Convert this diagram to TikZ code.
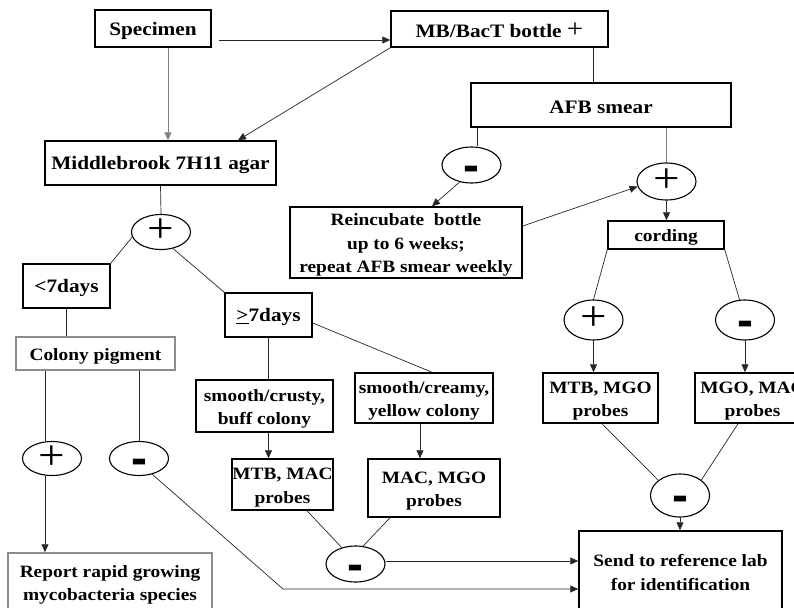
\documentclass[tikz,border=0pt]{standalone}
\usepackage{fontspec}
\setmainfont{Liberation Serif}[FakeStretch=1.12]
\newfontfamily\signfont{Liberation Sans}
\usetikzlibrary{shapes.geometric,arrows.meta}

\begin{document}
\begin{tikzpicture}[x=1pt,y=-1pt]
\tikzstyle{box}=[draw,line width=1.5pt,inner sep=0pt,align=center,font=\bfseries\fontsize{17.3}{23.5}\selectfont,text height=17.3pt]
\tikzstyle{twoline}=[text height=40.8pt]
\tikzstyle{threeline}=[text height=64.3pt]
\tikzstyle{bigbox}=[box,font=\bfseries\fontsize{19}{24}\selectfont]
\tikzstyle{palebox}=[box,draw=black!45]
\tikzstyle{sign}=[ellipse,draw,line width=1.1pt,minimum width=59pt,inner sep=0pt]
\tikzstyle{plussign}=[sign,font=\fontsize{42}{42}\selectfont,text height=21.5pt,text depth=0pt,inner ysep=-5pt]
\tikzstyle{minussign}=[sign,font=\signfont\bfseries\fontsize{48}{48}\selectfont,text height=32.6pt,text depth=0pt,inner ysep=-12pt]
\tikzstyle{link}=[line width=0.7pt,draw=black!85]
\tikzstyle{flow}=[link,-{Triangle[length=8pt,width=7pt]}]
\useasboundingbox (0,0) rectangle (794,607);
\node[bigbox,minimum width=116pt,minimum height=37pt] (specimen) at (153,28.5) {Specimen};
\node[bigbox,minimum width=217pt,minimum height=36pt] (bottle) at (499.5,29) {MB/BacT bottle {\mdseries\fontsize{26}{26}\selectfont +}};
\node[bigbox,minimum width=260pt,minimum height=44pt] (smear) at (601,105) {AFB smear};
\node[bigbox,minimum width=231pt,minimum height=44pt] (agar) at (160.5,163) {Middlebrook 7H11 agar};
\node[box,threeline,minimum width=232pt,minimum height=71pt] (reinc) at (406,242.5) {Reincubate\ \ bottle\\up to 6 weeks;\\repeat AFB smear weekly};
\node[box,minimum width=116pt,minimum height=28pt] (cording) at (666,235) {cording};
\node[bigbox,minimum width=87pt,minimum height=44pt] (lt7) at (66.5,286) {<7days};
\node[bigbox,minimum width=87pt,minimum height=44pt] (ge7) at (268.5,315) {\underline{>}7days};
\node[palebox,minimum width=159pt,minimum height=33pt] (pigment) at (95.5,353.5) {Colony pigment};
\node[box,twoline,minimum width=137pt,minimum height=52pt] (crusty) at (264.5,406) {smooth/crusty,\\buff colony};
\node[box,twoline,minimum width=138pt,minimum height=50pt] (creamy) at (424,398) {smooth/creamy,\\yellow colony};
\node[box,twoline,minimum width=115pt,minimum height=50pt] (mtbmgo) at (600.5,398) {MTB, MGO\\probes};
\node[box,twoline,minimum width=115pt,minimum height=50pt] (mgomac) at (752.5,398) {MGO, MAC\\probes};
\node[box,twoline,minimum width=101pt,minimum height=51pt] (mtbmac) at (282.5,484.5) {MTB, MAC\\probes};
\node[box,twoline,minimum width=132pt,minimum height=58pt] (macmgo) at (434,488) {MAC, MGO\\probes};
\node[palebox,twoline,minimum width=204pt,minimum height=58pt] (report) at (110,582) {Report rapid growing\\mycobacteria species};
\node[box,twoline,minimum width=203pt,minimum height=78pt] (send) at (680.5,570) {Send to reference lab\\for identification};
\foreach \name/\point/\kind/\sym/\hgt in {
	agarpos/{161,232}/plussign/+/35,
	smearneg/{471.5,165}/minussign/-/36,
	smearpos/{666.5,181.5}/plussign/+/37,
	cordpos/{593.5,320}/plussign/+/40,
	cordneg/{745,320}/minussign/-/40,
	pigpos/{52,458.5}/plussign/+/34,
	pigneg/{139,458.5}/minussign/-/34,
	probneg/{355.5,564}/minussign/-/36,
	finneg/{680,495.5}/minussign/-/43}
	\node[\kind,minimum height=\hgt pt] (\name) at (\point) {\sym};
\coordinate (bend) at (283,589);
\draw[flow] ([shift={(7,11.5)}]specimen.east) -- ([shift={(0,11)}]bottle.west);
\draw[flow,draw=black!50] ([xshift=15pt]specimen.south) -- ([xshift=15pt]specimen.south |- agar.north);
\draw[flow] (bottle.south west) -- ([xshift=77.5pt]agar.north);
\draw[link] ([xshift=93.5pt]bottle.south) -- ([xshift=93.5pt]bottle.south |- smear.north);
\draw[link] ([xshift=7pt]smear.south west) -- ([xshift=7pt]smear.south west |- smearneg.north);
\draw[link,draw=black!50] (smear.south -| smearpos) -- (smearpos.north);
\draw[flow] (smearneg.235) -- ([xshift=26pt]reinc.north);
\draw[flow] ([shift={(0,-16.5)}]reinc.east) -- (smearpos.190);
\draw[flow] (smearpos.south) -- (smearpos.south |- cording.north);
\draw[link] (cording.south west) -- (cordpos.north);
\draw[link] (cording.south east) -- (cordneg.105);
\draw[flow] (cordpos.south) -- (cordpos.south |- mtbmgo.north);
\draw[flow] (cordneg.south) -- (cordneg.south |- mgomac.north);
\draw[link] ([xshift=1.5pt]mtbmgo.south) -- (finneg.145);
\draw[link] ([xshift=-14.5pt]mgomac.south) -- (finneg.36);
\draw[flow] (finneg.south) -- (finneg.south |- send.north);
\draw[link] (agar.south) -- (agarpos.north);
\draw[link] (agarpos.190) -- (lt7.north east);
\draw[link] (agarpos.306) -- (ge7.north west);
\draw[link] (lt7.south) -- (lt7.south |- pigment.north);
\draw[link] ([xshift=-7pt]pigpos.north) -- ([xshift=-7pt]pigpos.north |- pigment.south);
\draw[link] (pigneg.north) -- (pigneg.north |- pigment.south);
\draw[flow] ([xshift=-7pt]pigpos.south) -- ([xshift=-7pt]pigpos.south |- report.north);
\draw[flow] (pigneg.310) -- (bend) -- (bend -| send.west);
\draw[link] (ge7.south) -- (ge7.south |- crusty.north);
\draw[link] ([shift={(0,8)}]ge7.east) -- ([xshift=8pt]creamy.north);
\draw[flow] (ge7.south |- crusty.south) -- (ge7.south |- mtbmac.north);
\draw[flow] ([xshift=-4pt]creamy.south) -- ([xshift=-4pt]creamy.south |- macmgo.north);
\draw[link] ([xshift=24.5pt]mtbmac.south) -- (probneg.130);
\draw[link] ([xshift=-44pt]macmgo.south) -- (probneg.67);
\draw[flow] ([shift={(0,-3)}]probneg.east) -- ([shift={(0,-3)}]probneg.east -| send.west);
\end{tikzpicture}
\end{document}
